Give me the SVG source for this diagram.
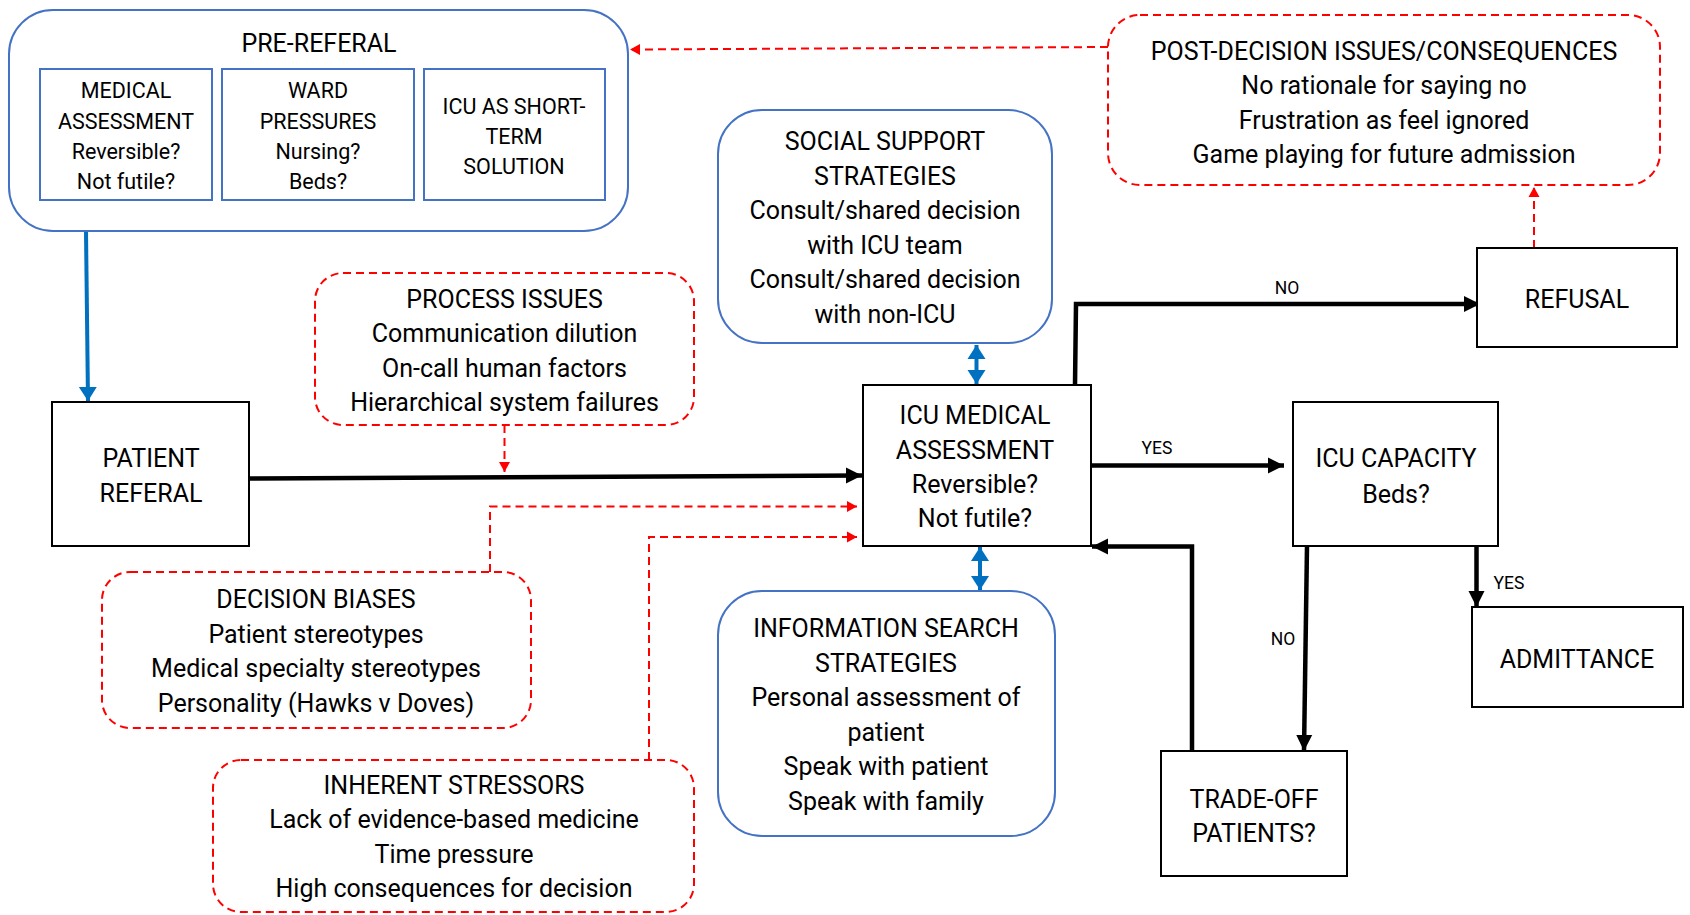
<svg xmlns="http://www.w3.org/2000/svg" width="1690" height="915" viewBox="0 0 1690 915">
<defs>
<style>
text{font-family:Roboto,"Liberation Sans",sans-serif;fill:#000;text-anchor:middle}
.t{font-size:25px}
.s{font-size:21.5px}
.l{font-size:17.5px}
.rb{fill:#fff;stroke:#4472C4;stroke-width:2}
.bb{fill:#fff;stroke:#000;stroke-width:2}
.rd{fill:#fff;stroke:#FF0000;stroke-width:2;stroke-dasharray:8 5}
.ka{fill:none;stroke:#000;stroke-width:4.5}
.ra{fill:none;stroke:#FF0000;stroke-width:2;stroke-dasharray:8 5}
.ba{fill:none;stroke:#0070C0;stroke-width:4}
</style>
<marker id="mk" markerUnits="userSpaceOnUse" markerWidth="18" markerHeight="18" refX="16" refY="9" orient="auto"><path d="M0,1 L16,9 L0,17 z" fill="#000"/></marker>
<marker id="mr" markerUnits="userSpaceOnUse" markerWidth="12" markerHeight="12" refX="10" refY="6" orient="auto"><path d="M0,0.5 L10,6 L0,11.5 z" fill="#FF0000"/></marker>
<marker id="mb" markerUnits="userSpaceOnUse" markerWidth="16" markerHeight="20" refX="14" refY="10" orient="auto-start-reverse"><path d="M0,1 L14,10 L0,19 z" fill="#0070C0"/></marker>
</defs>
<rect width="1690" height="915" fill="#fff"/>

<g id="connectors">
<path class="ra" d="M1108,47 L630,49.5" marker-end="url(#mr)"/>
<path class="ra" d="M1534,248 L1534,187" marker-end="url(#mr)"/>
<path class="ba" d="M86,231 L88,401" marker-end="url(#mb)"/>
<path class="ka" d="M249,478.5 L862,475.5" marker-end="url(#mk)"/>
<path class="ra" d="M504.5,425 L504.5,472" marker-end="url(#mr)"/>
<path class="ra" d="M490,572 L490,506.5 L857,506.5" marker-end="url(#mr)"/>
<path class="ra" d="M649,760 L649,537 L857,537" marker-end="url(#mr)"/>
<path class="ba" d="M976.5,345 L976.5,384" marker-start="url(#mb)" marker-end="url(#mb)"/>
<path class="ba" d="M980,547 L980,590" marker-start="url(#mb)" marker-end="url(#mb)"/>
<path class="ka" d="M1075,385 L1076,304 L1480,304" marker-end="url(#mk)"/>
<path class="ka" d="M1091,465.5 L1284,465.5" marker-end="url(#mk)"/>
<path class="ka" d="M1307,546 L1304,751" marker-end="url(#mk)"/>
<path class="ka" d="M1476.5,546 L1476.5,607" marker-end="url(#mk)"/>
<path class="ka" d="M1192,751 L1192,546.5 L1092,546.5" marker-end="url(#mk)"/>
<text class="l" x="1287" y="294">NO</text>
<text class="l" x="1157" y="454">YES</text>
<text class="l" x="1509" y="589">YES</text>
<text class="l" x="1283" y="645">NO</text>
</g>

<g id="pre-referal">
<rect class="rb" x="9" y="10" width="619" height="221" rx="44"/>
<text class="t" x="319" y="52">PRE-REFERAL</text>
<rect class="rb" x="40" y="69" width="172" height="131" rx="0"/>
<text class="s" x="126" y="98">MEDICAL</text>
<text class="s" x="126" y="128.5">ASSESSMENT</text>
<text class="s" x="126" y="158.5">Reversible?</text>
<text class="s" x="126" y="189">Not futile?</text>
<rect class="rb" x="222" y="69" width="192" height="131" rx="0"/>
<text class="s" x="318" y="98">WARD</text>
<text class="s" x="318" y="128.5">PRESSURES</text>
<text class="s" x="318" y="158.5">Nursing?</text>
<text class="s" x="318" y="189">Beds?</text>
<rect class="rb" x="424" y="69" width="181" height="131" rx="0"/>
<text class="s" x="514" y="113.5">ICU AS SHORT-</text>
<text class="s" x="514" y="143.5">TERM</text>
<text class="s" x="514" y="174">SOLUTION</text>
</g>

<g id="post-decision">
<rect class="rd" x="1108" y="15" width="552" height="170" rx="32"/>
<text class="t" x="1384" y="60">POST-DECISION ISSUES/CONSEQUENCES</text>
<text class="t" x="1384" y="94">No rationale for saying no</text>
<text class="t" x="1384" y="128.5">Frustration as feel ignored</text>
<text class="t" x="1384" y="163">Game playing for future admission</text>
</g>

<g id="social-support">
<rect class="rb" x="718" y="110" width="334" height="233" rx="44"/>
<text class="t" x="885" y="150">SOCIAL SUPPORT</text>
<text class="t" x="885" y="184.5">STRATEGIES</text>
<text class="t" x="885" y="219">Consult/shared decision</text>
<text class="t" x="885" y="253.5">with ICU team</text>
<text class="t" x="885" y="288">Consult/shared decision</text>
<text class="t" x="885" y="322.5">with non-ICU</text>
</g>

<g id="process-issues">
<rect class="rd" x="315" y="273" width="379" height="152" rx="28"/>
<text class="t" x="504.5" y="307.5">PROCESS ISSUES</text>
<text class="t" x="504.5" y="342">Communication dilution</text>
<text class="t" x="504.5" y="376.5">On-call human factors</text>
<text class="t" x="504.5" y="411">Hierarchical system failures</text>
</g>

<g id="patient-referal">
<rect class="bb" x="52" y="402" width="197" height="144"/>
<text class="t" x="151" y="467">PATIENT</text>
<text class="t" x="151" y="501.5">REFERAL</text>
</g>

<g id="icu-medical">
<rect class="bb" x="863" y="385" width="228" height="161"/>
<text class="t" x="975" y="424">ICU MEDICAL</text>
<text class="t" x="975" y="458.5">ASSESSMENT</text>
<text class="t" x="975" y="493">Reversible?</text>
<text class="t" x="975" y="527">Not futile?</text>
</g>

<g id="information-search">
<rect class="rb" x="718" y="591" width="337" height="245" rx="44"/>
<text class="t" x="886" y="637">INFORMATION SEARCH</text>
<text class="t" x="886" y="672">STRATEGIES</text>
<text class="t" x="886" y="706">Personal assessment of</text>
<text class="t" x="886" y="741">patient</text>
<text class="t" x="886" y="775">Speak with patient</text>
<text class="t" x="886" y="810">Speak with family</text>
</g>

<g id="decision-biases">
<rect class="rd" x="102" y="572" width="429" height="156" rx="28"/>
<text class="t" x="316" y="608">DECISION BIASES</text>
<text class="t" x="316" y="643">Patient stereotypes</text>
<text class="t" x="316" y="677">Medical specialty stereotypes</text>
<text class="t" x="316" y="712">Personality (Hawks v Doves)</text>
</g>

<g id="inherent-stressors">
<rect class="rd" x="213" y="760" width="481" height="152" rx="28"/>
<text class="t" x="454" y="794">INHERENT STRESSORS</text>
<text class="t" x="454" y="828">Lack of evidence-based medicine</text>
<text class="t" x="454" y="862.5">Time pressure</text>
<text class="t" x="454" y="897">High consequences for decision</text>
</g>

<g id="refusal">
<rect class="bb" x="1477" y="248" width="200" height="99"/>
<text class="t" x="1577" y="307.5">REFUSAL</text>
</g>

<g id="icu-capacity">
<rect class="bb" x="1293" y="402" width="205" height="144"/>
<text class="t" x="1396" y="467">ICU CAPACITY</text>
<text class="t" x="1396" y="502.5">Beds?</text>
</g>

<g id="admittance">
<rect class="bb" x="1472" y="607" width="211" height="100"/>
<text class="t" x="1577" y="667.5">ADMITTANCE</text>
</g>

<g id="trade-off">
<rect class="bb" x="1161" y="751" width="186" height="125"/>
<text class="t" x="1254" y="807.5">TRADE-OFF</text>
<text class="t" x="1254" y="842">PATIENTS?</text>
</g>
</svg>
